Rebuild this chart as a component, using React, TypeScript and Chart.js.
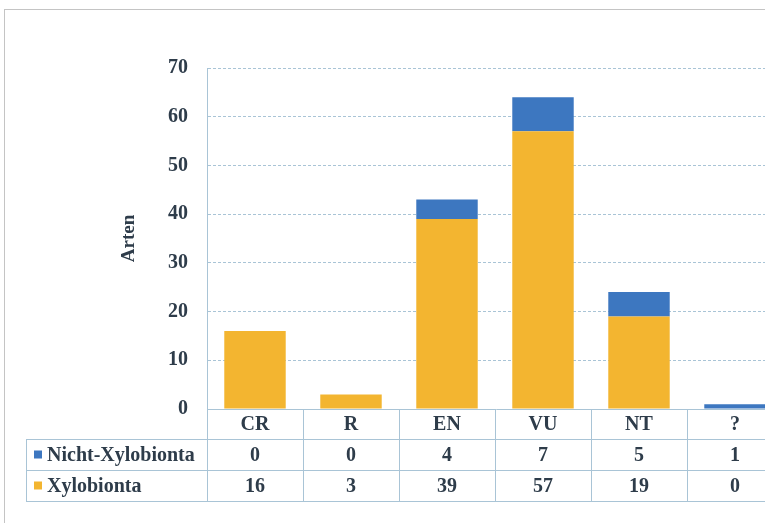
import React, { useEffect, useRef } from "react";
import { Chart, registerables } from "chart.js";

Chart.register(...registerables);

const categories = ["CR", "R", "EN", "VU", "NT", "?"];
const nichtXylobionta = [0, 0, 4, 7, 5, 1];
const xylobionta = [16, 3, 39, 57, 19, 0];
const seriesNames = ["Nicht-Xylobionta", "Xylobionta"];
const yTicks = [0, 10, 20, 30, 40, 50, 60, 70];

const BLUE = "#3d77c0";
const ORANGE = "#f3b530";
const LINE = "#a9c4d6";
const TEXT = "#2e3c4a";
const FONT = "'Liberation Serif', 'Times New Roman', serif";

const tablePlugin = {
  id: "dataTable",
  afterDraw(chart: any) {
    const { ctx, chartArea } = chart;
    const left = chartArea.left;
    const right = chartArea.right;
    const n = categories.length;
    const colW = (right - left) / n;
    const top = chartArea.bottom;
    const rowH = [30, 31, 31];
    const y0 = top;
    const y1 = y0 + rowH[0];
    const y2 = y1 + rowH[1];
    const y3 = y2 + rowH[2];
    const legendLeft = 26;
    ctx.save();
    ctx.strokeStyle = LINE;
    ctx.lineWidth = 1;
    ctx.beginPath();
    ctx.moveTo(left, y0 + 0.5);
    ctx.lineTo(right + 20, y0 + 0.5);
    for (const y of [y1, y2, y3]) {
      ctx.moveTo(legendLeft, y + 0.5);
      ctx.lineTo(right + 20, y + 0.5);
    }
    ctx.moveTo(legendLeft + 0.5, y1);
    ctx.lineTo(legendLeft + 0.5, y3);
    for (let i = 0; i <= n; i++) {
      const x = Math.round(left + i * colW) + 0.5;
      ctx.moveTo(x, y0);
      ctx.lineTo(x, y3);
    }
    ctx.stroke();

    ctx.fillStyle = TEXT;
    ctx.font = `bold 20px ${FONT}`;
    ctx.textAlign = "center";
    ctx.textBaseline = "middle";
    const rows = [nichtXylobionta, xylobionta];
    for (let i = 0; i < n; i++) {
      const cx = left + (i + 0.5) * colW;
      ctx.fillText(categories[i], cx, (y0 + y1) / 2 + 1);
      ctx.fillText(String(rows[0][i]), cx, (y1 + y2) / 2 + 1);
      ctx.fillText(String(rows[1][i]), cx, (y2 + y3) / 2 + 1);
    }
    const colors = [BLUE, ORANGE];
    const ys = [(y1 + y2) / 2, (y2 + y3) / 2];
    ctx.textAlign = "left";
    for (let r = 0; r < 2; r++) {
      ctx.fillStyle = colors[r];
      ctx.fillRect(34, ys[r] - 4, 8, 8);
      ctx.fillStyle = TEXT;
      ctx.fillText(seriesNames[r], 47, ys[r] + 1);
    }
    ctx.restore();
  },
};

export default function App() {
  const ref = useRef<HTMLCanvasElement | null>(null);
  useEffect(() => {
    if (!ref.current) return;
    const chart = new Chart(ref.current, {
      type: "bar",
      data: {
        labels: categories,
        datasets: [
          {
            label: seriesNames[1],
            data: xylobionta,
            backgroundColor: ORANGE,
            barPercentage: 0.8,
            categoryPercentage: 0.8,
          },
          {
            label: seriesNames[0],
            data: nichtXylobionta,
            backgroundColor: BLUE,
            barPercentage: 0.8,
            categoryPercentage: 0.8,
          },
        ],
      },
      options: {
        animation: false,
        responsive: true,
        maintainAspectRatio: false,
        layout: { padding: { left: 118, right: 2, top: 68, bottom: 114 } },
        plugins: { legend: { display: false }, tooltip: { enabled: false } },
        scales: {
          x: { display: false, stacked: true },
          y: {
            stacked: true,
            min: 0,
            max: 70,
            afterFit: (s: any) => {
              s.width = 89;
            },
            afterBuildTicks: (s: any) => {
              s.ticks = yTicks.map((v) => ({ value: v }));
            },
            ticks: {
              padding: 19,
              color: TEXT,
              font: { family: FONT, size: 20, weight: "bold" },
            },
            grid: {
              drawTicks: false,
              color: (c: any) => (c.tick && c.tick.value === 0 ? "rgba(0,0,0,0)" : LINE),
              lineWidth: 1,
            },
            border: { display: true, color: LINE, dash: [3, 2] },
            title: {
              display: true,
              text: "Arten",
              color: TEXT,
              padding: 0,
              font: { family: FONT, size: 19, weight: "bold" },
            },
          },
        },
      },
      plugins: [tablePlugin],
    });
    return () => chart.destroy();
  }, []);
  return (
    <div
      style={{
        position: "fixed",
        left: 0,
        top: 0,
        width: 765,
        height: 523,
        overflow: "hidden",
        background: "#fff",
      }}
    >
      <div
        style={{
          position: "absolute",
          left: 4,
          top: 9,
          width: 800,
          height: 600,
          borderLeft: "1px solid #c4c4c4",
          borderTop: "1px solid #c4c4c4",
        }}
      />
      <div style={{ position: "absolute", left: 0, top: 0, width: 785, height: 523 }}>
        <canvas ref={ref} />
      </div>
    </div>
  );
}
